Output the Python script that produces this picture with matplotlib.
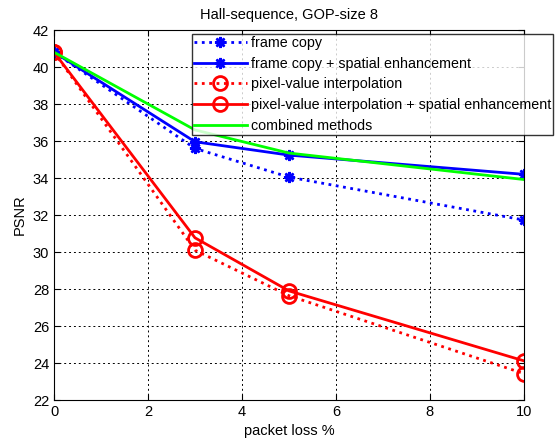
import matplotlib.pyplot as plt

plt.rcParams['font.family'] = ['Liberation Sans', 'DejaVu Sans']

# packet loss in percent
loss = [0, 3, 5, 10]

# PSNR values per method
frame_copy = [40.8, 35.6, 34.05, 31.73]
frame_copy_se = [40.8, 35.96, 35.24, 34.2]
pixel_interp = [40.8, 30.1, 27.64, 23.43]
pixel_interp_se = [40.8, 30.77, 27.9, 24.12]
combined = [40.8, 36.6, 35.35, 33.92]

labels = ['frame copy',
          'frame copy + spatial enhancement',
          'pixel-value interpolation',
          'pixel-value interpolation + spatial enhancement',
          'combined methods']

star = (8, 2, 0)  # asterisk like matlab '*'

fig = plt.figure(figsize=(5.55, 4.46), dpi=100, facecolor='white')
ax = fig.add_axes([0.0973, 0.103, 0.8467, 0.8297])

ax.plot(loss, frame_copy, color='#0000ff', ls=':', lw=2, marker=star,
        ms=8, mew=1.8, label=labels[0])
ax.plot(loss, frame_copy_se, color='#0000ff', ls='-', lw=2, marker=star,
        ms=8, mew=1.8, label=labels[1])
ax.plot(loss, pixel_interp, color='#ff0000', ls=':', lw=2, marker='o',
        ms=10, mew=2, mfc='none', label=labels[2])
ax.plot(loss, pixel_interp_se, color='#ff0000', ls='-', lw=2, marker='o',
        ms=10, mew=2, mfc='none', label=labels[3])
ax.plot(loss, combined, color='#00ff00', ls='-', lw=2, label=labels[4])

ax.set_xlim(0, 10)
ax.set_ylim(22, 42)
ax.set_xticks(range(0, 11, 2))
ax.set_yticks(range(22, 43, 2))
ax.tick_params(direction='in', top=True, right=True, labelsize=10.5, length=4)
ax.grid(True, color='black', ls=(0, (2, 3)), lw=0.7)
for s in ax.spines.values():
    s.set_linewidth(0.8)

ax.set_title('Hall-sequence, GOP-size 8', fontsize=10.5, pad=8)
ax.set_xlabel('packet loss %', fontsize=10.5)
ax.set_ylabel('PSNR', fontsize=10.5)

leg = ax.legend(loc='upper right', bbox_to_anchor=(0.997, 0.924),
                bbox_transform=fig.transFigure, fontsize=10.3, frameon=True,
                fancybox=False, edgecolor='black', borderaxespad=0,
                handlelength=3.7, labelspacing=0.47, borderpad=0.15,
                handletextpad=0.3)
leg.get_frame().set_linewidth(1)

fig.savefig('out.png', dpi=100)
